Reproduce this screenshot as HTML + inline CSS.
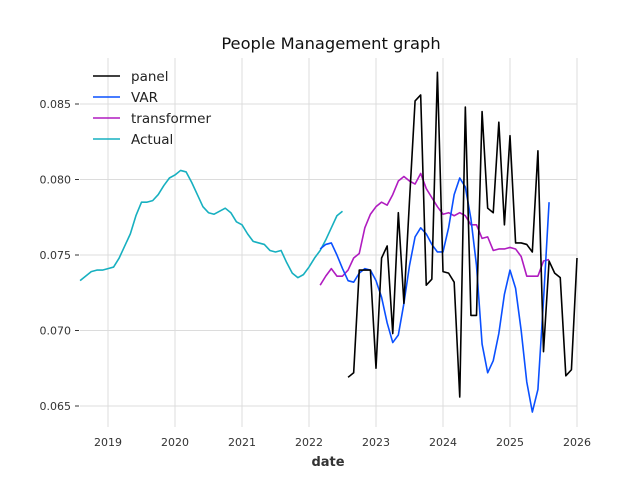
<!DOCTYPE html>
<html><head><meta charset="utf-8"><style>
html,body{margin:0;padding:0;background:#fff;}
svg{display:block;font-family:"DejaVu Sans","Liberation Sans",sans-serif;}
</style></head><body>
<svg id="chart" width="640" height="480" viewBox="0 0 640 480">
<text x="331" y="49" text-anchor="middle" font-size="16.3" fill="#111">People Management graph</text>
<g id="grid"></g>
<g id="axes"></g>
<g id="series"></g>
<text x="328" y="466" text-anchor="middle" font-size="13" font-weight="bold" fill="#333">date</text>
<g id="legend"></g>
</svg>
<script>
const xTicks = [2019,2020,2021,2022,2023,2024,2025,2026];
const yTicks = [0.065,0.070,0.075,0.080,0.085];
const yTickLabels = ["0.065","0.070","0.075","0.080","0.085"];
const seriesNames = ["panel","VAR","transformer","Actual"];
const seriesColors = ["#000000","#0a50ff","#b01cc0","#17b0c0"];
const actualStart = 2018 + 7/12;
const actualValues = [0.0733,0.0736,0.0739,0.0740,0.0740,0.0741,0.0742,0.0748,0.0756,0.0764,0.0776,0.0785,0.0785,0.0786,0.0790,0.0796,0.0801,0.0803,0.0806,0.0805,0.0798,0.0790,0.0782,0.0778,0.0777,0.0779,0.0781,0.0778,0.0772,0.0770,0.0764,0.0759,0.0758,0.0757,0.0753,0.0752,0.0753,0.0745,0.0738,0.0735,0.0737,0.0742,0.0748,0.0753,0.0760,0.0768,0.0776,0.0779];
const transformerStart = 2022 + 2/12;
const transformerValues = [0.0730,0.0736,0.0741,0.0736,0.0736,0.0740,0.0748,0.0751,0.0768,0.0777,0.0782,0.0785,0.0783,0.0790,0.0799,0.0802,0.0799,0.0797,0.0804,0.0794,0.0788,0.0782,0.0777,0.0778,0.0776,0.0778,0.0776,0.0770,0.0770,0.0761,0.0762,0.0753,0.0754,0.0754,0.0755,0.0754,0.0749,0.0736,0.0736,0.0736,0.0746,0.0747];
const varStart = 2022 + 2/12;
const varValues = [0.0754,0.0757,0.0758,0.0750,0.0741,0.0733,0.0732,0.0738,0.0741,0.0740,0.0733,0.0722,0.0705,0.0692,0.0697,0.0718,0.0743,0.0762,0.0768,0.0764,0.0757,0.0752,0.0752,0.0768,0.0790,0.0801,0.0795,0.0774,0.0743,0.0691,0.0672,0.0680,0.0698,0.0724,0.0740,0.0728,0.0700,0.0666,0.0646,0.0661,0.0720,0.0785];
const panelStart = 2022 + 7/12;
const panelValues = [0.0669,0.0672,0.0740,0.0740,0.0740,0.0675,0.0748,0.0756,0.0698,0.0778,0.0718,0.0786,0.0852,0.0856,0.0730,0.0734,0.0871,0.0739,0.0738,0.0732,0.0656,0.0848,0.0710,0.0710,0.0845,0.0781,0.0778,0.0838,0.0770,0.0829,0.0758,0.0758,0.0757,0.0752,0.0819,0.0686,0.0746,0.0738,0.0735,0.0670,0.0674,0.0748];

const L=80,R=577,T=58,B=427;
const xMin=2019-(108-L)/67, xMax=2026;
function xs(v){return L+(v-xMin)/(xMax-xMin)*(R-L);}
function ys(v){return 104+(0.085-v)/0.001*15.1;}
const NS="http://www.w3.org/2000/svg";
function mk(tag,attrs,parent){const e=document.createElementNS(NS,tag);for(const k in attrs)e.setAttribute(k,attrs[k]);parent.appendChild(e);return e;}
const grid=document.getElementById('grid'),axes=document.getElementById('axes'),series=document.getElementById('series'),legend=document.getElementById('legend');
xTicks.forEach(t=>{
  const x=xs(t);
  const g=mk('line',{x1:x,x2:x,y1:T,y2:B,stroke:'#dcdcdc','stroke-width':1},grid);
  
  
  const lb=mk('text',{x:x,y:446,'text-anchor':'middle','font-size':11,fill:'#333'},axes);
  lb.textContent=String(t);
  
  
});
yTicks.forEach((t,i)=>{
  const y=ys(t);
  const g=mk('line',{x1:L,x2:R,y1:y,y2:y,stroke:'#dcdcdc','stroke-width':1},grid);
  
  
  const tk=mk('line',{x1:75,x2:79,y1:y,y2:y,stroke:'#333','stroke-width':1},axes);
  
  
  const lb=mk('text',{x:71,y:y+4,'text-anchor':'end','font-size':11,fill:'#333'},axes);
  lb.textContent=yTickLabels[i];
  
  
});
function drawLine(start,vals,color,name){
  const pts=vals.map((v,i)=>xs(start+i/12).toFixed(2)+','+ys(v).toFixed(2)).join(' ');
  const p=mk('polyline',{points:pts,fill:'none',stroke:color,'stroke-width':1.6,'stroke-linejoin':'round'},series);
  
  
}
drawLine(actualStart,actualValues,seriesColors[3],'actual-line');
drawLine(transformerStart,transformerValues,seriesColors[2],'transformer-line');
drawLine(varStart,varValues,seriesColors[1],'var-line');
drawLine(panelStart,panelValues,seriesColors[0],'panel-line');
seriesNames.forEach((n,i)=>{
  const y=76+i*21;
  const ln=mk('line',{x1:93,x2:120,y1:y,y2:y,stroke:seriesColors[i],'stroke-width':1.6},legend);
  
  
  const tx=mk('text',{x:131,y:y+5,'font-size':13.5,fill:'#222'},legend);
  tx.textContent=n;
  
  
});
</script>
</body></html>
